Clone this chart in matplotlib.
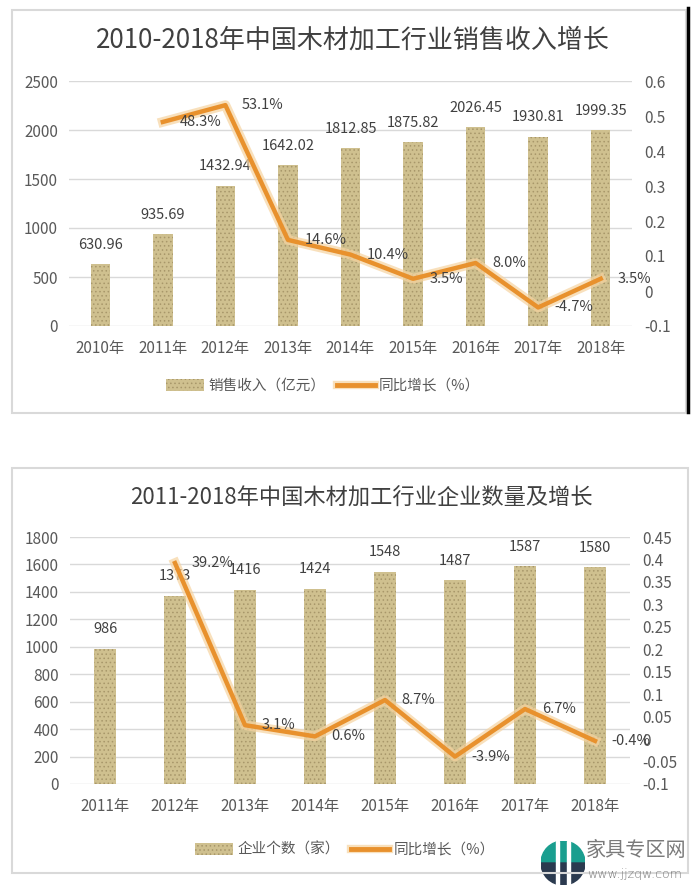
import matplotlib
matplotlib.use("Agg")
import numpy as np
import matplotlib.pyplot as plt
import matplotlib.patheffects as pe
from matplotlib.patches import Rectangle, Patch, Wedge
from matplotlib.lines import Line2D
from matplotlib.ticker import FuncFormatter

plt.rcParams['font.family'] = ['Noto Sans CJK SC', 'DejaVu Sans']
plt.rcParams['font.weight'] = 'light'
plt.rcParams['hatch.linewidth'] = 0.6

W, H = 700, 892

# --- data ---
sales_years = ['2010年', '2011年', '2012年', '2013年', '2014年', '2015年', '2016年', '2017年', '2018年']
sales_values = [630.96, 935.69, 1432.94, 1642.02, 1812.85, 1875.82, 2026.45, 1930.81, 1999.35]
sales_growth = [None, 0.483, 0.531, 0.146, 0.104, 0.035, 0.080, -0.047, 0.035]

firm_years = ['2011年', '2012年', '2013年', '2014年', '2015年', '2016年', '2017年', '2018年']
firm_counts = [986, 1373, 1416, 1424, 1548, 1487, 1587, 1580]
firm_growth = [None, 0.392, 0.031, 0.006, 0.087, -0.039, 0.067, -0.004]

BAR_COLOR = '#CFC08F'
BAR_SPECK = '#A8976A'
LINE_COLOR = '#E8912D'
GRID = '#D9D9D9'
TXT = '#404040'
TICK = '#595959'


def fx(px):
    return px / W


def fy(py):
    return 1 - py / H


def fmt_small(v, pos=None):
    s = f'{v:.2f}'.rstrip('0').rstrip('.')
    return '0' if s in ('-0', '') else s


def panel(fig, box, rect, title, title_xy, title_size, cats, vals, growth, val_fmt,
          ylim, yticks, ylim2, y2ticks, legend_labels, legend_xy):
    # frame around the chart
    x0, y0, x1, y1 = box
    fig.patches.append(Rectangle((fx(x0), fy(y1)), fx(x1 - x0), (y1 - y0) / H,
                                 transform=fig.transFigure, fill=False,
                                 edgecolor=GRID, lw=1.5))
    fig.text(fx(title_xy[0]), fy(title_xy[1]), title, ha='center', va='center',
             fontsize=title_size, color=TXT)

    l, t, r, b = rect
    ax = fig.add_axes([fx(l), fy(b), fx(r - l), (b - t) / H])
    x = np.arange(len(cats))
    ax.bar(x, vals, width=0.31, color=BAR_COLOR, edgecolor=BAR_SPECK,
           hatch='....', linewidth=0, zorder=2)
    ax.set_xlim(-0.5, len(cats) - 0.5)
    ax.set_ylim(*ylim)
    ax.set_yticks(yticks)
    ax.set_xticks(x)
    ax.set_xticklabels(cats)
    ax.yaxis.grid(True, color=GRID, lw=1)
    ax.set_axisbelow(True)
    for s in ax.spines.values():
        s.set_visible(False)
    ax.tick_params(axis='y', length=0, pad=8, labelsize=11, labelcolor=TICK)
    ax.tick_params(axis='x', length=0, pad=10, labelsize=11, labelcolor=TICK)
    for xi, v in zip(x, vals):
        ax.annotate(val_fmt.format(v), (xi, v), xytext=(0, 14), textcoords='offset points',
                    ha='center', va='center', fontsize=10.5, color=TXT, zorder=5)

    ax2 = ax.twinx()
    ax2.set_ylim(*ylim2)
    ax2.set_yticks(y2ticks)
    ax2.yaxis.set_major_formatter(FuncFormatter(fmt_small))
    for s in ax2.spines.values():
        s.set_visible(False)
    ax2.tick_params(axis='y', length=0, pad=9, labelsize=11, labelcolor=TICK)
    gx = [xi for xi, g in zip(x, growth) if g is not None]
    gy = [g for g in growth if g is not None]
    ax2.plot(gx, gy, color=LINE_COLOR, lw=3.2, solid_joinstyle='round', zorder=3,
             path_effects=[pe.Stroke(linewidth=7, foreground='#F6D3A0', alpha=0.7), pe.Normal()])
    for xi, g in zip(gx, gy):
        ax2.annotate(f'{g * 100:.1f}%', (xi, g), xytext=(12, 0), textcoords='offset points',
                     ha='left', va='center', fontsize=10.5, color=TXT, zorder=5)

    handles = [Patch(facecolor=BAR_COLOR, edgecolor=BAR_SPECK, hatch='....', linewidth=0),
               Line2D([], [], color=LINE_COLOR, lw=3.5,
                      path_effects=[pe.Stroke(linewidth=6, foreground='#F6D3A0', alpha=0.7), pe.Normal()])]
    fig.legend(handles, legend_labels, loc='center',
               bbox_to_anchor=(fx(legend_xy[0]), fy(legend_xy[1])), ncol=2, frameon=False,
               fontsize=10.5, handlelength=2.6, handleheight=0.9, columnspacing=0.8,
               handletextpad=0.3, labelcolor=TICK)
    return ax, ax2


fig = plt.figure(figsize=(W / 100, H / 100), dpi=100)

panel(fig, (12, 10, 686, 413), (69, 81, 632, 326),
      '2010-2018年中国木材加工行业销售收入增长', (353, 40), 18.7,
      sales_years, sales_values, sales_growth, '{:.2f}',
      (0, 2500), [0, 500, 1000, 1500, 2000, 2500],
      (-0.1, 0.6), np.round(np.arange(-0.1, 0.61, 0.1), 2),
      ['销售收入（亿元）', '同比增长（%）'], (323, 386))

# dark edge on the right of the first frame
fig.add_artist(Line2D([fx(688), fx(688)], [fy(8), fy(412)], color='black', lw=2.5))

panel(fig, (12, 468, 688, 873), (70, 537, 630, 784),
      '2011-2018年中国木材加工行业企业数量及增长', (361, 498), 16,
      firm_years, firm_counts, firm_growth, '{:d}',
      (0, 1800), list(range(0, 1801, 200)),
      (-0.1, 0.45), np.round(np.arange(-0.1, 0.451, 0.05), 2),
      ['企业个数（家）', '同比增长（%）'], (345, 850))

# watermark logo
lax = fig.add_axes([fx(541), fy(885), fx(44), 44 / H])
lax.set_xlim(-1, 1)
lax.set_ylim(-1, 1)
lax.set_aspect('equal')
lax.axis('off')
lax.add_patch(Wedge((0, 0), 1, 0, 180, color='#1A9E8F'))
lax.add_patch(Wedge((0, 0), 1, 180, 360, color='#2B3A4F'))
for bx in (-0.32, 0.18):
    lax.add_patch(Rectangle((bx, -1), 0.14, 2, color='white'))
fig.text(fx(586), fy(850), '家具专区网', ha='left', va='center', fontsize=14.5, color='#7A7A7A')
fig.text(fx(587), fy(874), 'www.jjzqw.com', ha='left', va='center', fontsize=9, color='#7A7A7A',
         family=['DejaVu Sans'])

fig.savefig('out.png', dpi=100)
